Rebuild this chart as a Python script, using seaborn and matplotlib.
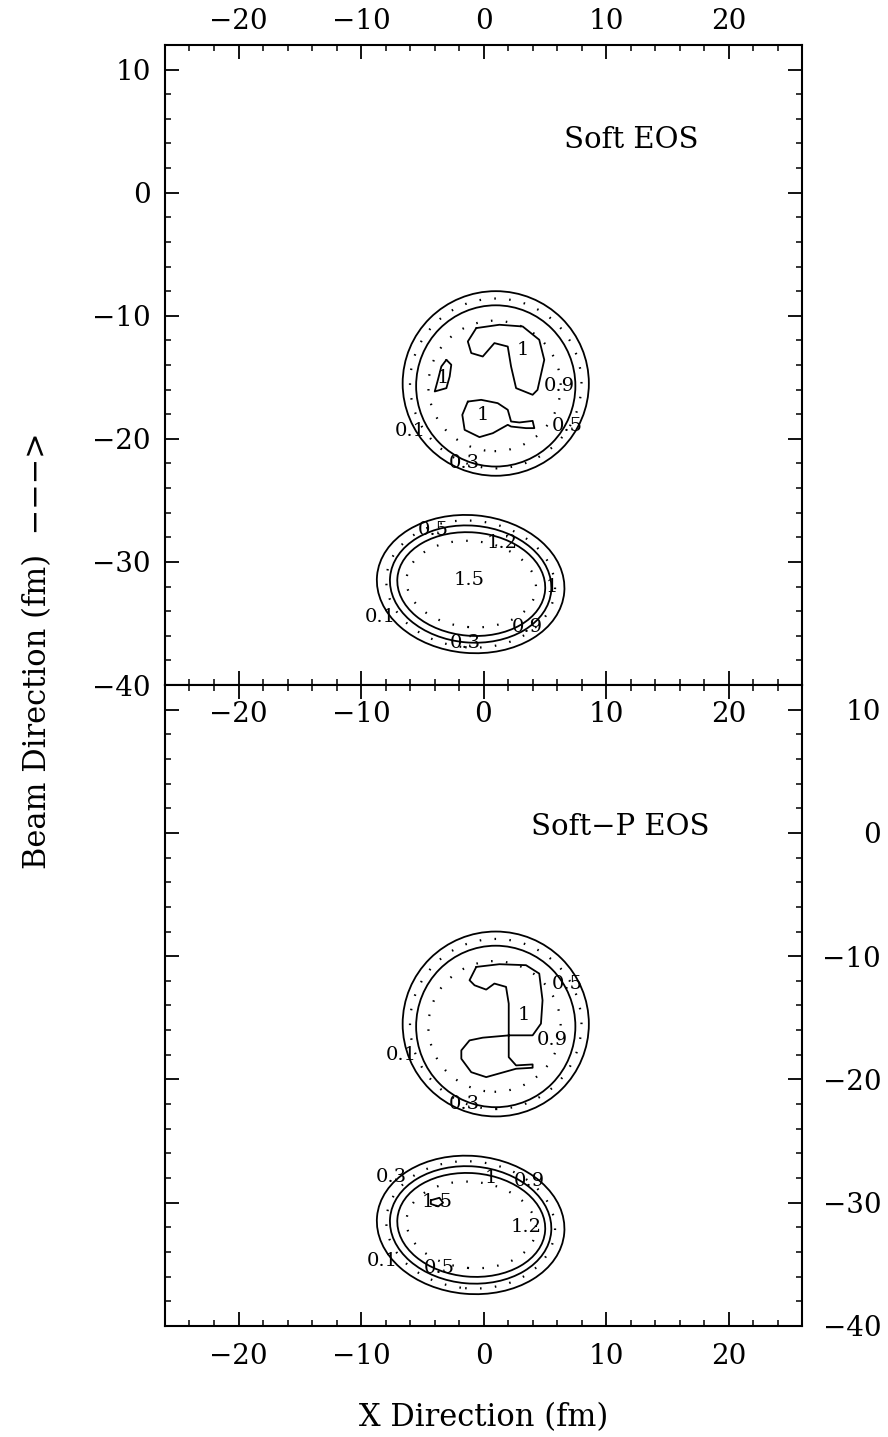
import numpy as np
import pandas as pd
import matplotlib
matplotlib.use("Agg")
import matplotlib.pyplot as plt
from matplotlib.patches import Ellipse
from matplotlib.ticker import MultipleLocator
import seaborn as sns

sns.set_style("ticks")
plt.rcParams['font.family'] = ['DejaVu Serif', 'DejaVu Sans']
plt.rcParams['axes.unicode_minus'] = True
plt.rcParams['text.color'] = 'black'
plt.rcParams['axes.labelcolor'] = 'black'
plt.rcParams['xtick.color'] = 'black'
plt.rcParams['ytick.color'] = 'black'
plt.rcParams['axes.edgecolor'] = 'black'

# ---------------- data ----------------
x_major_ticks = [-20, -10, 0, 10, 20]
y_major_ticks = [10, 0, -10, -20, -30, -40]
x_limits = [-26, 26]
y_limits = [-40, 12]
panel_titles = ["Soft EOS", "Soft\u2212P EOS"]
title_x = [12.1, 11.2]
title_y = [4.3, 0.5]
dotted_levels = [0.3, 0.9, 1.2]

# near-elliptic contour rings of the upper blob
upper_ring_levels = [0.1, 0.3, 0.5, 0.9]
upper_ring_cx = [1.0, 1.0, 1.0, 0.9]
upper_ring_cy = [-15.5, -15.5, -15.7, -15.7]
upper_ring_rx = [7.6, 7.0, 6.5, 5.4]
upper_ring_ry = [7.5, 6.9, 6.55, 5.3]

# near-elliptic contour rings of the lower blob
lower_ring_levels = [0.1, 0.3, 0.5, 1.0, 1.2]
lower_ring_cx = [-1.05, -1.05, -1.05, -1.0, -1.0]
lower_ring_cy = [-31.8, -31.8, -31.8, -31.8, -31.8]
lower_ring_rx = [7.67, 6.9, 6.6, 6.05, 5.3]
lower_ring_ry = [5.6, 5.15, 4.75, 4.2, 3.5]
lower_ring_tilt = [-5, -5, -5, -5, -5]

# irregular level-1 contours, top panel
soft_c1a_x = [-0.59, -1.28, -1.0, -0.06, 0.89, 1.98, 2.25, 2.66, 4.01, 4.41, 4.96, 4.55, 3.20, 1.30, -0.59]
soft_c1a_y = [-11.0, -12.09, -13.03, -13.31, -12.22, -12.50, -14.12, -15.88, -16.42, -16.02, -13.58, -11.95, -10.87, -10.73, -11.0]
soft_c1b_x = [-3.03, -3.44, -3.72, -3.98, -3.03, -2.76, -2.63, -3.03]
soft_c1b_y = [-13.58, -14.12, -15.2, -16.15, -15.88, -14.93, -13.98, -13.58]
soft_c1c_x = [-1.28, -1.73, -1.54, -0.33, 0.76, 1.98, 2.25, 3.47, 4.15, 4.01, 2.93, 2.25, 1.98, 1.16, -0.19, -1.28]
soft_c1c_y = [-16.97, -18.05, -19.27, -19.86, -19.54, -18.86, -19.0, -19.13, -19.13, -18.54, -18.67, -18.59, -17.64, -17.1, -16.83, -16.97]

# irregular level-1 contour, bottom panel
softp_c1_x = [-0.59, -1.14, -0.73, 0.22, 0.89, 1.84, 2.06, 2.06, 2.06, 2.66, 4.01, 4.01, 2.66, 0.22, -1.0,
              -1.81, -1.81, -1.14, -0.06, 2.11, 4.01, 4.69, 4.82, 4.55, 3.47, 1.30, -0.59]
softp_c1_y = [-10.87, -11.95, -12.36, -12.71, -12.22, -12.49, -13.85, -16.56, -18.19, -18.86, -18.78, -19.05, -19.13,
              -19.81, -19.41, -18.32, -17.64, -16.83, -16.61, -16.42, -16.42, -15.47, -13.58, -11.41, -10.73, -10.65, -10.87]
softp_c15_x = [-4.3, -3.6, -3.3, -3.7, -4.3, -4.3]
softp_c15_y = [-29.8, -29.6, -30.0, -30.3, -30.1, -29.8]

# contour labels
soft_label_text = ["1", "1", "1", "0.9", "0.5", "0.1", "0.3", "0.5", "1.2", "1.5", "1", "0.1", "0.9", "0.3"]
soft_label_x = [3.2, -3.36, -0.06, 6.18, 6.86, -6.0, -1.54, -4.07, 1.52, -1.14, 5.58, -8.4, 3.6, -1.46]
soft_label_y = [-12.8, -15.07, -18.05, -15.7, -18.94, -19.4, -21.98, -27.4, -28.5, -31.46, -32.06, -34.5, -35.3, -36.6]
softp_label_text = ["0.5", "1", "0.9", "0.1", "0.3", "0.3", "1", "0.9", "1.5", "1.2", "0.1", "0.5"]
softp_label_x = [6.86, 3.25, 5.58, -6.7, -1.54, -7.5, 0.63, 3.74, -3.8, 3.47, -8.3, -3.63]
softp_label_y = [-12.22, -14.8, -16.83, -18.05, -21.98, -27.94, -27.99, -28.2, -29.97, -32.0, -34.7, -35.3]

# ---------------- drawing ----------------
LW = 1.3
DOT = (0, (0.7, 6.0))


def fmt(v):
    return f"{v}".replace("-", "\u2212")


fig = plt.figure(figsize=(8.88, 14.37), dpi=100)
ax_top = fig.add_axes([165 / 888, 1 - 685 / 1437, 637 / 888, 640 / 1437])
ax_bot = fig.add_axes([165 / 888, 1 - 1326 / 1437, 637 / 888, 641 / 1437])


def draw_rings(ax, levels, cx, cy, rx, ry, tilt=None):
    for i, lev in enumerate(levels):
        ang = 0 if tilt is None else tilt[i]
        if lev in dotted_levels:
            e = Ellipse((cx[i], cy[i]), 2 * rx[i], 2 * ry[i], angle=ang, fill=False,
                        ec='black', lw=1.6, ls=DOT)
        else:
            e = Ellipse((cx[i], cy[i]), 2 * rx[i], 2 * ry[i], angle=ang, fill=False,
                        ec='black', lw=LW)
        ax.add_patch(e)


def draw_poly(ax, xs, ys):
    df = pd.DataFrame({"x": xs, "y": ys})
    sns.lineplot(data=df, x="x", y="y", sort=False, estimator=None, color='black',
                 lw=LW, ax=ax, legend=False)


for ax in (ax_top, ax_bot):
    draw_rings(ax, upper_ring_levels, upper_ring_cx, upper_ring_cy, upper_ring_rx, upper_ring_ry)
    draw_rings(ax, lower_ring_levels, lower_ring_cx, lower_ring_cy, lower_ring_rx, lower_ring_ry,
               lower_ring_tilt)

draw_poly(ax_top, soft_c1a_x, soft_c1a_y)
draw_poly(ax_top, soft_c1b_x, soft_c1b_y)
draw_poly(ax_top, soft_c1c_x, soft_c1c_y)
draw_poly(ax_bot, softp_c1_x, softp_c1_y)
draw_poly(ax_bot, softp_c15_x, softp_c15_y)

for t, x, y in zip(soft_label_text, soft_label_x, soft_label_y):
    ax_top.text(x, y, t, ha='center', va='center', fontsize=14, color='black')
for t, x, y in zip(softp_label_text, softp_label_x, softp_label_y):
    ax_bot.text(x, y, t, ha='center', va='center', fontsize=14, color='black')

for i, ax in enumerate((ax_top, ax_bot)):
    ax.text(title_x[i], title_y[i], panel_titles[i], ha='center', va='center', fontsize=21, color='black')
    ax.set_xlim(*x_limits)
    ax.set_ylim(*y_limits)
    ax.set_xticks(x_major_ticks)
    ax.set_yticks(y_major_ticks)
    ax.xaxis.set_minor_locator(MultipleLocator(2))
    ax.yaxis.set_minor_locator(MultipleLocator(2))
    ax.set_xlabel("")
    ax.set_ylabel("")
    for sp in ax.spines.values():
        sp.set_linewidth(1.5)
        sp.set_visible(True)
        sp.set_color('black')
    ax.tick_params(which='both', direction='in', top=True, bottom=True, left=True, right=True,
                   labelsize=20, width=1.3, colors='black')
    ax.tick_params(which='major', length=10)
    ax.tick_params(which='minor', length=4, width=1.1)
    ax.set_xticklabels([fmt(v) for v in x_major_ticks])
    ax.set_yticklabels([fmt(v) for v in y_major_ticks])

# top panel: labels on top (x) and left (y)
ax_top.tick_params(axis='x', labeltop=True, labelbottom=False, pad=7)
ax_top.tick_params(axis='y', labelleft=True, labelright=False, pad=10)

# bottom panel: labels on bottom (x) and right (y)
ax_bot.tick_params(axis='x', labeltop=False, labelbottom=True, pad=12)
ax_bot.tick_params(axis='y', labelleft=False, labelright=True, pad=57)
for tk in ax_bot.yaxis.get_major_ticks():
    tk.label2.set_horizontalalignment('right')

# inner x labels just below the panel boundary
sec = ax_bot.secondary_xaxis('top')
sec.set_xticks(x_major_ticks)
sec.set_xticklabels([fmt(v) for v in x_major_ticks])
sec.tick_params(axis='x', direction='in', length=0, labelsize=20, pad=-31, colors='black')
sec.spines['top'].set_visible(False)

fig.text(38 / 888, 1 - 651 / 1437, "Beam Direction (fm)  \u2212\u2212\u2212>", rotation=90,
         ha='center', va='center', fontsize=22, color='black')
fig.text(484 / 888, 1 - 1418 / 1437, "X Direction (fm)", ha='center', va='center', fontsize=22,
         color='black')

fig.savefig("out.png", dpi=100, facecolor='white')
